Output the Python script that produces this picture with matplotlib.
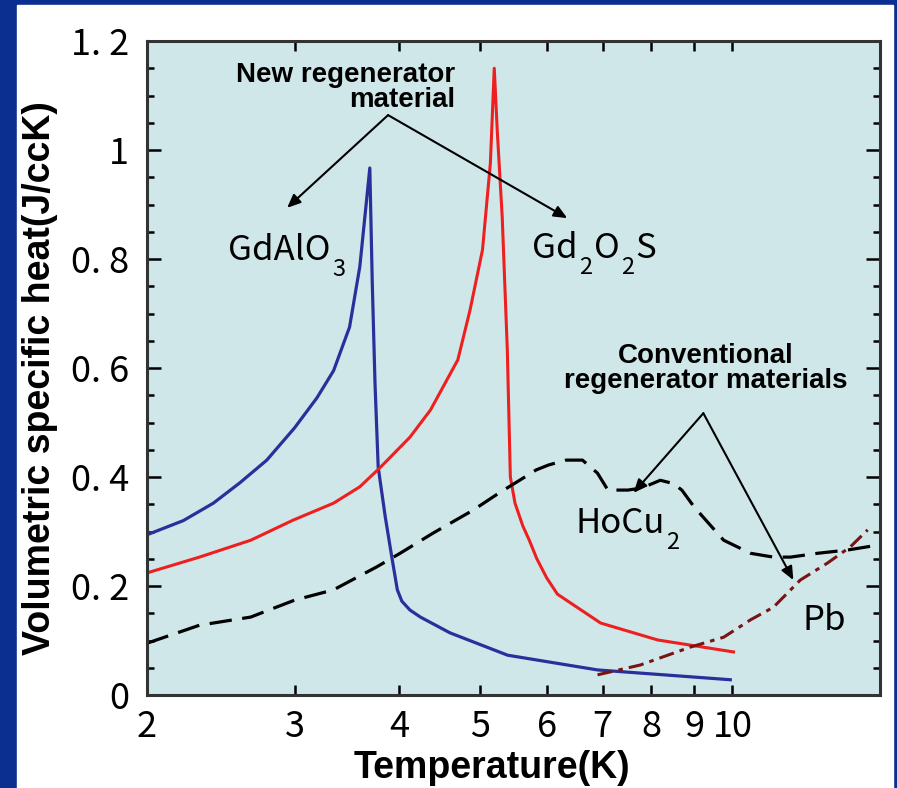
import matplotlib
matplotlib.use("Agg")
import matplotlib.pyplot as plt
from matplotlib.patches import Rectangle
from matplotlib.ticker import FixedLocator, NullLocator, MultipleLocator, FixedFormatter

# ---- data (T in K, C in J/ccK) ----
gdalo3_T = [2.0, 2.21, 2.40, 2.58, 2.78, 3.00, 3.19, 3.34, 3.49, 3.59, 3.64, 3.69,
            3.715, 3.743, 3.776, 3.85, 3.92, 3.98, 4.03, 4.12, 4.24, 4.60, 5.39, 6.90, 9.94]
gdalo3_C = [0.294, 0.320, 0.352, 0.389, 0.431, 0.490, 0.545, 0.595, 0.675, 0.786, 0.877, 0.967,
            0.756, 0.572, 0.418, 0.327, 0.253, 0.193, 0.172, 0.156, 0.143, 0.114, 0.073, 0.046, 0.028]

gd2o2s_T = [2.0, 2.31, 2.66, 2.99, 3.34, 3.59, 3.80, 4.12, 4.36, 4.70, 4.86, 5.03, 5.14, 5.195,
            5.24, 5.31, 5.385, 5.43, 5.50, 5.62, 5.72, 5.84, 6.00, 6.18, 6.96, 8.14, 10.03]
gd2o2s_C = [0.224, 0.253, 0.284, 0.321, 0.352, 0.382, 0.418, 0.473, 0.523, 0.615, 0.706, 0.817, 0.976, 1.150,
            1.031, 0.877, 0.633, 0.400, 0.352, 0.310, 0.284, 0.250, 0.215, 0.185, 0.132, 0.101, 0.079]

hocu2_T = [2.0, 2.31, 2.66, 3.00, 3.34, 3.76, 4.01, 4.39, 4.90, 5.28, 5.57, 5.83, 6.03, 6.33, 6.62,
           6.90, 7.10, 7.50, 7.80, 8.20, 8.50, 8.70, 9.00, 9.76, 10.51, 11.19, 11.73, 12.63, 13.72,
           14.50, 15.0]
hocu2_C = [0.095, 0.128, 0.143, 0.174, 0.193, 0.235, 0.260, 0.297, 0.339, 0.372, 0.394, 0.413, 0.422, 0.431, 0.431,
           0.407, 0.376, 0.376, 0.380, 0.394, 0.388, 0.376, 0.345, 0.284, 0.260, 0.253, 0.253, 0.260, 0.266,
           0.272, 0.276]

pb_T = [6.90, 7.76, 8.91, 9.76, 10.51, 11.19, 12.05, 12.98, 13.83, 14.50]
pb_C = [0.037, 0.055, 0.088, 0.106, 0.138, 0.161, 0.211, 0.242, 0.272, 0.303]

x_ticks = [2, 3, 4, 5, 6, 7, 8, 9, 10]
x_ticklabels = ["2", "3", "4", "5", "6", "7", "8", "9", "10"]
y_ticks = [0, 0.2, 0.4, 0.6, 0.8, 1.0, 1.2]
y_ticklabels = ["0", "0. 2", "0. 4", "0. 6", "0. 8", "1", "1. 2"]

NARROW = ["Noto Sans CJK JP", "DejaVu Sans"]
BOLD = ["Liberation Sans", "DejaVu Sans"]

W, H = 897, 788
fig = plt.figure(figsize=(W / 100, H / 100), dpi=100, facecolor="#0a2f90")
fig.patches.append(Rectangle((17 / W, 0), (893 - 17) / W, (H - 5) / H,
                             transform=fig.transFigure, color="white", zorder=-1))

ax = fig.add_axes([147 / W, (H - 695) / H, (880 - 147) / W, (695 - 41) / H])
ax.set_facecolor("#d0e7e9")
ax.set_xscale("log")
ax.set_xlim(2, 15)
ax.set_ylim(0, 1.2)

# curves
ax.plot(gdalo3_T, gdalo3_C, color="#2b2f9c", lw=2.3)
ax.plot(gd2o2s_T, gd2o2s_C, color="#ee1f1f", lw=2.2)
ax.plot(hocu2_T, hocu2_C, color="black", lw=2.3, dashes=(7, 3.3))
ax.plot(pb_T, pb_C, color="#7a1414", lw=2.2, dashes=(5, 2, 1.5, 2))

# ticks
ax.xaxis.set_major_locator(FixedLocator(x_ticks))
ax.xaxis.set_major_formatter(FixedFormatter(x_ticklabels))
ax.xaxis.set_minor_locator(NullLocator())
ax.yaxis.set_major_locator(FixedLocator(y_ticks))
ax.yaxis.set_major_formatter(FixedFormatter(y_ticklabels))
ax.yaxis.set_minor_locator(MultipleLocator(0.05))
ax.tick_params(axis="both", which="both", direction="in", top=True, right=True,
               color="black", width=1.8)
ax.tick_params(axis="y", which="major", length=10, pad=13)
ax.tick_params(axis="y", which="minor", length=5)
ax.tick_params(axis="x", which="major", length=7, pad=10)
for lab in ax.get_xticklabels() + ax.get_yticklabels():
    lab.set_family(NARROW)
    lab.set_fontsize(26)
for sp in ax.spines.values():
    sp.set_linewidth(2.2)
    sp.set_color("#333333")

# axis labels
fig.text(40 / W, 1 - 378 / H, "Volumetric specific heat(J/ccK)", rotation=90,
         ha="center", va="center", fontsize=27, fontweight="bold", family=BOLD)
fig.text(492 / W, 1 - 768 / H, "Temperature(K)", ha="center", va="center",
         fontsize=27, fontweight="bold", family=BOLD)

# annotations
arrow = dict(arrowstyle="-|>,head_length=0.8,head_width=0.35", color="black", lw=1.5,
             shrinkA=0, shrinkB=0)
ax.text(4.67, 1.161, "New regenerator\nmaterial", ha="right", va="top",
        multialignment="right", fontsize=20, fontweight="bold", family=BOLD,
        linespacing=0.95)
ax.annotate("", xy=(2.94, 0.894), xytext=(3.88, 1.064), arrowprops=arrow)
ax.annotate("", xy=(6.35, 0.875), xytext=(3.88, 1.064), arrowprops=arrow)

ax.text(9.29, 0.645, "Conventional\nregenerator materials", ha="center", va="top",
        multialignment="center", fontsize=20, fontweight="bold", family=BOLD,
        linespacing=0.95)
ax.annotate("", xy=(7.62, 0.371), xytext=(9.23, 0.517), arrowprops=arrow)
ax.annotate("", xy=(11.82, 0.211), xytext=(9.23, 0.517), arrowprops=arrow)


def chem_label(x, y, parts, size=25):
    """Formula label: parts are (text, is_subscript); subscripts hang below the baseline."""
    first = ax.text(x, y, parts[0][0], ha="left", va="baseline", fontsize=size, family=NARROW)
    prev = first
    for s, sub in parts[1:]:
        if sub:
            prev = ax.annotate(s, xy=(1, 0), xycoords=(prev, first), xytext=(1, 7),
                               textcoords="offset points", ha="left", va="top",
                               fontsize=size * 0.68, family=NARROW)
        else:
            prev = ax.annotate(s, xy=(1, 0), xycoords=(prev, first), xytext=(1, 0),
                               textcoords="offset points", ha="left", va="bottom",
                               fontsize=size, family=NARROW)


chem_label(2.50, 0.798, [("GdAlO", False), ("3", True)])
chem_label(5.77, 0.802, [("Gd", False), ("2", True), ("O", False), ("2", True), ("S", False)])
chem_label(6.49, 0.297, [("HoCu", False), ("2", True)])
chem_label(12.12, 0.119, [("Pb", False)])

fig.savefig("out.png", dpi=100, facecolor=fig.get_facecolor())
